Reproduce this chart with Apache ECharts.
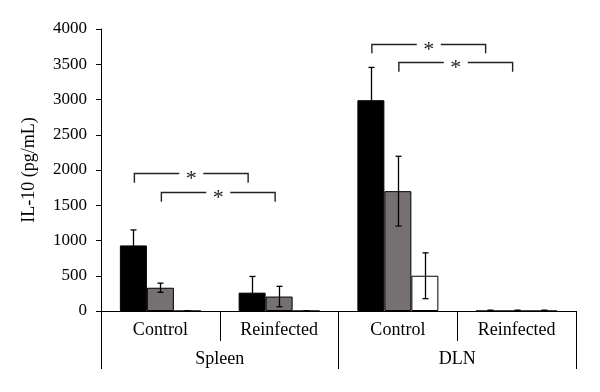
<!DOCTYPE html>
<html>
<head>
<meta charset="utf-8">
<script src="https://cdn.jsdelivr.net/npm/echarts@6/dist/echarts.min.js"></script>
<style>html,body{margin:0;padding:0;background:#fff}#c{width:600px;height:392px}</style>
</head>
<body>
<div id="c"></div>
<script>
// ---- data ----
var categories = ['Control', 'Reinfected', 'Control', 'Reinfected'];
var groups = ['Spleen', 'DLN'];
var blackVals = [930, 260, 2990, 0];
var blackErr  = [220, 230, 465, 12];
var grayVals  = [330, 205, 1700, 0];
var grayErr   = [65, 145, 495, 12];
var whiteVals = [0, 0, 500, 0];
var whiteErr  = [5, 5, 325, 12];
var yTicks = [0, 500, 1000, 1500, 2000, 2500, 3000, 3500, 4000];
// significance brackets: [startCategory, startBar, endCategory, endBar, top value, leg value]
var brackets = [
  [0, 0, 1, 0, 1960, 1820],
  [0, 1, 1, 1, 1690, 1550],
  [2, 0, 3, 0, 3790, 3655],
  [2, 1, 3, 1, 3530, 3395]
];

var FONT = '"Liberation Serif","DejaVu Serif",serif';
var GAP = 0.318; // barCategoryGap fraction
var chart = echarts.init(document.getElementById('c'));

function errData(vals, errs, s) {
  return vals.map(function (v, i) { return [i, v, errs[i], s]; });
}

function barW(api) { return api.size([1, 0])[0] * (1 - GAP) / 3; }

function renderErr(params, api) {
  var cat = api.value(0), v = api.value(1), e = api.value(2), s = api.value(3);
  var bw = barW(api);
  var c = api.coord([cat, v]);
  var x = Math.round(c[0] + (s - 1) * bw) + 0.5;
  var top = api.coord([cat, v + e])[1];
  var bot = api.coord([cat, Math.max(0, v - e)])[1];
  var cap = 3;
  var st = { stroke: '#000', lineWidth: 1.3 };
  return { type: 'group', children: [
    { type: 'line', shape: { x1: x, y1: top, x2: x, y2: bot }, style: st },
    { type: 'line', shape: { x1: x - cap, y1: top, x2: x + cap, y2: top }, style: st },
    { type: 'line', shape: { x1: x - cap, y1: bot, x2: x + cap, y2: bot }, style: st }
  ]};
}

function renderBracket(params, api) {
  var c0 = api.value(0), b0 = api.value(1), c1 = api.value(2), b1 = api.value(3);
  var yt = api.value(4), yl = api.value(5);
  var bw = barW(api);
  var x0 = api.coord([c0, yt])[0] + (b0 - 1) * bw + 1;
  var x1 = api.coord([c1, yt])[0] + (b1 - 1) * bw - 4;
  var y0 = Math.round(api.coord([c0, yt])[1]) + 0.5;
  var y1 = api.coord([c0, yl])[1];
  var mid = (x0 + x1) / 2;
  var st = { stroke: '#222', lineWidth: 1.4, fill: null };
  return { type: 'group', children: [
    { type: 'polyline', shape: { points: [[x0, y1], [x0, y0], [mid - 12, y0]] }, style: st },
    { type: 'polyline', shape: { points: [[mid + 12, y0], [x1, y0], [x1, y1]] }, style: st },
    { type: 'text', x: mid, y: y0 + 6, style: { text: '*', font: '22px ' + FONT, fill: '#222', align: 'center', verticalAlign: 'middle' } }
  ]};
}

var barBase = { type: 'bar', barGap: '0%', barCategoryGap: (GAP * 100) + '%', xAxisIndex: 0 };

chart.setOption({
  animation: false,
  grid: { left: 101, right: 24, top: 29, bottom: 81, containLabel: false },
  xAxis: [
    {
      type: 'category', data: categories, position: 'bottom',
      axisLine: { lineStyle: { color: '#000', width: 1 } },
      axisTick: { show: true, length: 30, lineStyle: { color: '#000', width: 1 } },
      axisLabel: { fontFamily: FONT, fontSize: 18, color: '#000', margin: 10 }
    },
    {
      type: 'category', data: groups, position: 'bottom', offset: 0,
      axisLine: { show: false },
      axisTick: { show: true, length: 58, lineStyle: { color: '#000', width: 1 } },
      axisLabel: { fontFamily: FONT, fontSize: 18, color: '#000', margin: 39 }
    }
  ],
  yAxis: {
    type: 'value', min: 0, max: 4000, interval: 500,
    name: 'IL-10 (pg/mL)', nameLocation: 'middle', nameGap: 63, nameRotate: 90,
    nameTextStyle: { fontFamily: FONT, fontSize: 18, color: '#000' },
    axisLine: { show: true, lineStyle: { color: '#000', width: 1 } },
    axisTick: { show: true, length: 5, lineStyle: { color: '#000' } },
    axisLabel: { fontFamily: FONT, fontSize: 17, color: '#000', margin: 14,
      formatter: function (v) { return yTicks.indexOf(v) >= 0 ? String(v) : ''; } },
    splitLine: { show: false }
  },
  series: [
    Object.assign({}, barBase, { name: 'black', data: blackVals, itemStyle: { color: '#000', borderColor: '#000', borderWidth: 1 } }),
    Object.assign({}, barBase, { name: 'gray', data: grayVals, itemStyle: { color: '#767170', borderColor: '#000', borderWidth: 1 } }),
    Object.assign({}, barBase, { name: 'white', data: whiteVals, itemStyle: { color: '#fff', borderColor: '#000', borderWidth: 1 } }),
    { type: 'custom', renderItem: renderErr, data: errData(blackVals, blackErr, 0), z: 5 },
    { type: 'custom', renderItem: renderErr, data: errData(grayVals, grayErr, 1), z: 5 },
    { type: 'custom', renderItem: renderErr, data: errData(whiteVals, whiteErr, 2), z: 5 },
    { type: 'custom', renderItem: renderBracket, data: brackets, z: 6, clip: false }
  ]
});
</script>
</body>
</html>
